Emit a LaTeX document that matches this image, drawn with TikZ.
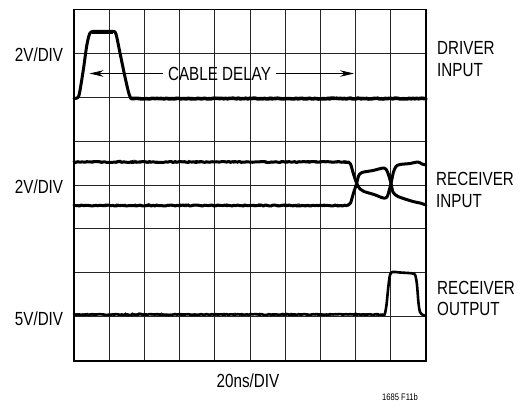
\documentclass[tikz,border=0pt]{standalone}
\usepackage{fontspec}
\setmainfont{Liberation Sans}[FakeStretch=0.8]
\usetikzlibrary{arrows.meta}
\begin{document}
\begin{tikzpicture}[x=1pt,y=-1pt,
  gridline/.style={line width=1pt,draw=black!85},
  frame/.style={line width=1.6pt,draw=black},
  trace/.style={line width=3pt,line join=round,line cap=round},
  fuzz/.style={line width=0.7pt},
  lbl/.style={font=\fontsize{19}{21.7}\selectfont,inner sep=0pt},
  rlbl/.style={lbl,anchor=north west,align=left},
  delayarrow/.style={line width=0.9pt,-{Stealth[length=14pt,width=6.5pt]}}]
\useasboundingbox (0,0) rectangle (520,405);
\fill[white] (0,0) rectangle (520,405);
\pgfmathsetseed{11}
% grid
\foreach \i in {1,...,9} \draw[gridline] ({74+35.2*\i},9.3) -- ({74+35.2*\i},360.7);
\foreach \j in {1,...,7} \draw[gridline] (74,{9.3+43.925*\j}) -- (426,{9.3+43.925*\j});
\draw[frame] (74,9.3) rectangle (426,360.7);
% driver input trace
\draw[trace] plot[smooth,tension=0.5] coordinates {(74,98.5)(77,98)(79.3,94)(83.3,70)(86.7,46)(89.5,34)(92.7,31.5)(100,31.5)(113,31.5)(116,34)(120,53)(125,77)(129,94)(131,98.5)};
\draw[line width=3.8pt] (92,31.8) -- (113,31.8);
\draw[trace,line width=3.6pt] plot[domain=131:426,samples=160] (\x,{98.6+0.4*rand});
\draw[fuzz] plot[domain=131:426,samples=120] (\x,{98.3+1.3*rand});
% receiver input traces
\draw[trace] plot[domain=74:348,samples=150] (\x,{162+0.5*rand});
\draw[fuzz] plot[domain=74:348,samples=130] (\x,{161.8+1.6*rand});
\draw[trace] plot[smooth,tension=0.5] coordinates {(348,162)(350.5,164)(353.5,174)(356.7,183.3)(360,189)(364,191.5)(374,194.5)(383.3,198)(387,197)(389,191)(391,183.3)(393.5,172)(396,166.5)(400,164.5)(410,163.5)(418,162)(422,164)(426,165)};
\draw[trace] plot[domain=74:348,samples=150] (\x,{205.5+0.5*rand});
\draw[fuzz] plot[domain=74:348,samples=130] (\x,{205.3+1.6*rand});
\draw[trace] plot[smooth,tension=0.5] coordinates {(348,205)(350.5,203)(353.5,193)(356.7,183.3)(358.5,176)(362,172.5)(373,170.5)(384,168)(387.5,172)(391,183.3)(393,192)(398,196.5)(413,201.5)(420,203)(426,205)};
% receiver output trace
\draw[trace,line width=2.6pt] plot[domain=74:385,samples=170] (\x,{314.5+0.4*rand});
\draw[fuzz] plot[domain=74:385,samples=140] (\x,{314.3+1.6*rand});
\draw[trace,line width=2.6pt] plot[smooth,tension=0.5] coordinates {(385,313.5)(386.5,305)(388.3,287)(390,275)(392.5,272)(400,272.5)(413,273.5)(415.5,276)(417,285)(418.5,303)(420,312)(423,315)(426,316)};
% cable delay
\node[lbl,inner xsep=4.5pt,anchor=base] (cd) at (219.5,80) {CABLE DELAY};
\coordinate (dl) at (89.5,73.5);
\coordinate (dr) at (354,73.5);
\draw[delayarrow] (cd.west |- dl) -- (dl);
\draw[delayarrow] (cd.east |- dr) -- (dr);
% left labels
\node[lbl,anchor=base east] (v1) at (63.3,61.5) {2V/DIV};
\node[lbl,anchor=base east] (v2) at (63.3,193) {2V/DIV};
\node[lbl,anchor=base east] (v3) at (63.3,325) {5V/DIV};
% right labels
\node[rlbl] (di) at (437,41.7) {DRIVER\\INPUT};
\node[rlbl] (ri) at (436,172.3) {RECEIVER\\INPUT};
\node[rlbl] (ro) at (437,280.7) {RECEIVER\\OUTPUT};
% bottom
\node[lbl,anchor=base] (tb) at (248,387.7) {20ns/DIV};
\node[font=\fontsize{9.5}{10}\selectfont,inner sep=0pt,anchor=base] (fig) at (400,400.7) {1685 F11b};
\end{tikzpicture}
\end{document}
